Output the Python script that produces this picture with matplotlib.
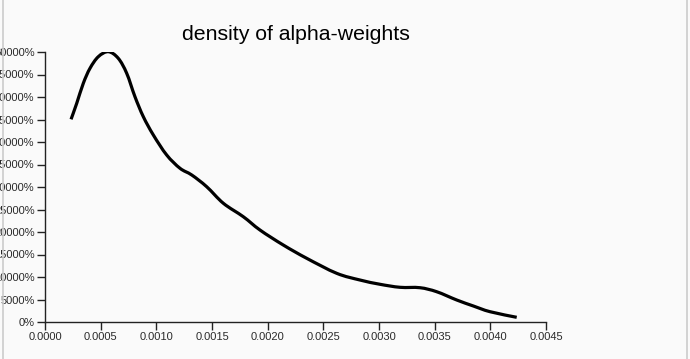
import matplotlib
matplotlib.use("Agg")
import matplotlib.pyplot as plt
from matplotlib.ticker import PercentFormatter, MultipleLocator
from matplotlib.lines import Line2D
from matplotlib.path import Path
from matplotlib.patches import PathPatch

# alpha-weight values and their density (1.0 == 100%)
alpha = [0.000234, 0.000285, 0.000344, 0.000404, 0.000479, 0.000569, 0.000658,
         0.000734, 0.000808, 0.000883, 0.000973, 0.001093, 0.001213, 0.001318,
         0.001452, 0.001602, 0.001781, 0.001931, 0.002140, 0.002351, 0.002620,
         0.002829, 0.003009, 0.003189, 0.003368, 0.003518, 0.003698, 0.003847,
         0.003997, 0.004237]
density = [450.4, 486.0, 530.4, 563.7, 589.6, 600.7, 586.0,
           552.6, 500.7, 456.3, 415.6, 371.1, 341.5, 326.7,
           300.7, 263.8, 234.0, 204.4, 171.1, 141.5, 108.2,
           93.3, 83.8, 77.1, 76.2, 67.3, 48.9, 35.6,
           22.9, 10.4]


def smooth_path(xs, ys):
    # catmull-rom through the points, written as cubic bezier segments
    verts = [(xs[0], ys[0])]
    codes = [Path.MOVETO]
    n = len(xs)
    for i in range(n - 1):
        x0, y0 = (xs[i - 1], ys[i - 1]) if i > 0 else (xs[i], ys[i])
        x1, y1 = xs[i], ys[i]
        x2, y2 = xs[i + 1], ys[i + 1]
        x3, y3 = (xs[i + 2], ys[i + 2]) if i + 2 < n else (x2, y2)
        verts += [(x1 + (x2 - x0) / 6, y1 + (y2 - y0) / 6),
                  (x2 - (x3 - x1) / 6, y2 - (y3 - y1) / 6),
                  (x2, y2)]
        codes += [Path.CURVE4] * 3
    return Path(verts, codes)


plt.rcParams['font.family'] = ['Liberation Sans', 'DejaVu Sans']

fig = plt.figure(figsize=(6.9, 3.59), dpi=100, facecolor='#fafafa')
W, H = 690, 359
ax = fig.add_axes([45 / W, 1 - 322 / H, (546 - 45) / W, (322 - 52) / H])
ax.set_facecolor('#fafafa')

ax.add_patch(PathPatch(smooth_path(alpha, density), facecolor='none',
                       edgecolor='black', lw=2.3, capstyle='butt'))

ax.set_xlim(0, 0.0045)
ax.set_ylim(0, 600)
ax.xaxis.set_major_locator(MultipleLocator(0.0005))
ax.yaxis.set_major_locator(MultipleLocator(50))
ax.xaxis.set_major_formatter(lambda v, p: f"{v:.4f}")
ax.yaxis.set_major_formatter(PercentFormatter(xmax=1, decimals=0))

for s in ['top', 'right']:
    ax.spines[s].set_visible(False)
for s in ['left', 'bottom']:
    ax.spines[s].set_color('#222222')
    ax.spines[s].set_linewidth(1.0)
ax.tick_params(length=5.5, width=1, color='#222222', labelsize=8,
               labelcolor='#2a2a2a', pad=2)

fig.text(295.5 / W, 1 - 34 / H, 'density of alpha-weights', ha='center',
         va='center', fontsize=15.3, color='black')

# light frame edges seen in the screenshot
fig.add_artist(Line2D([3 / W, 3 / W], [0, 1], color='#cccccc', lw=1.2,
                      transform=fig.transFigure))
fig.add_artist(Line2D([687 / W, 687 / W], [0, 1], color='#cccccc', lw=1.2,
                      transform=fig.transFigure))

fig.savefig('out.png', dpi=100, facecolor=fig.get_facecolor())
